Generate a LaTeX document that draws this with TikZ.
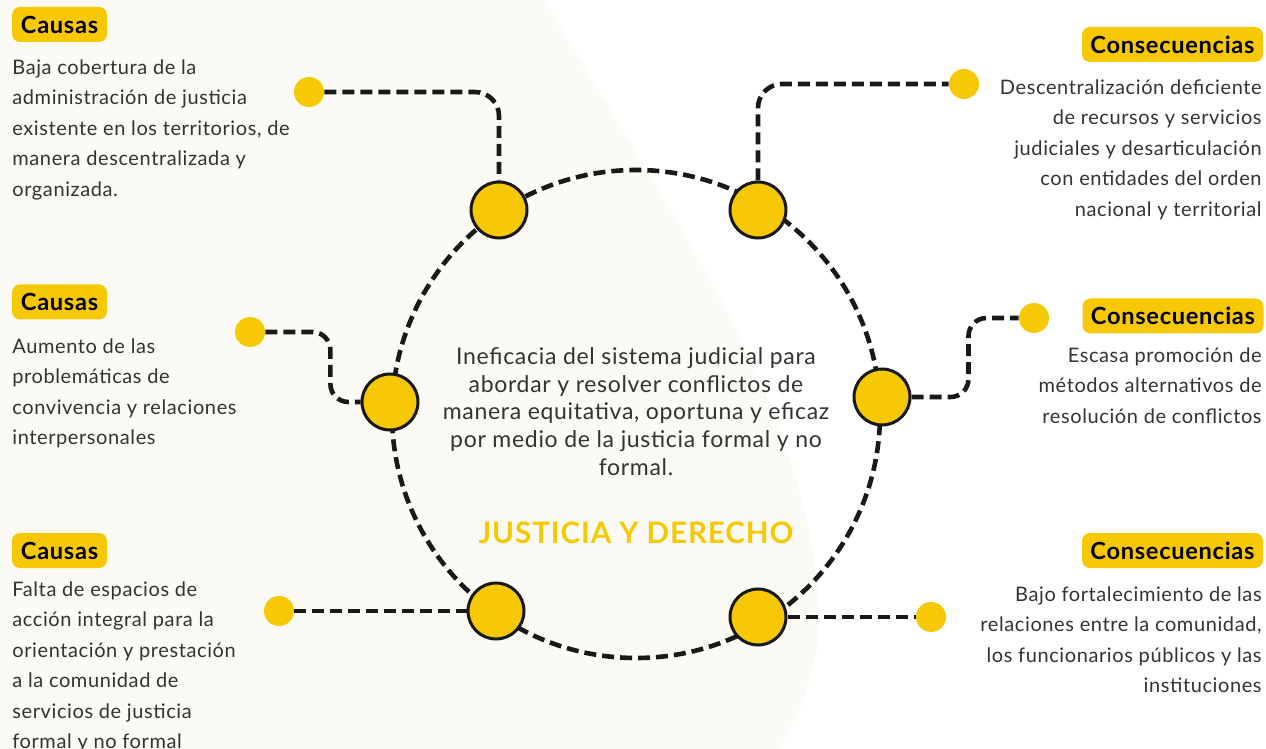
\documentclass[tikz,border=0pt]{standalone}
\usepackage{fontspec}
\setmainfont{Lato}[LetterSpace=3]
\definecolor{amarillo}{HTML}{F7C904}
\definecolor{crema}{HTML}{FCFAF5}
\definecolor{texto}{HTML}{333333}
\tikzset{
  link/.style={line width=2.3pt, dash pattern=on 6pt off 3pt, draw=black!90},
  nodo/.style={circle, fill=amarillo, draw=black!90, line width=1.5pt, minimum size=28pt, inner sep=0},
  punto/.style={circle, fill=amarillo, minimum size=15pt, inner sep=0},
  etiqueta/.style={fill=amarillo, rounded corners=4pt, minimum height=17.5pt, inner sep=0,
    font=\bfseries\fontsize{11.8}{13}\selectfont},
  cuerpo/.style={inner sep=0, text=texto, font=\fontsize{10}{15.25}\selectfont},
}
\begin{document}
\begin{tikzpicture}[x=0.5pt, y=-0.5pt]
  \useasboundingbox (0,0) rectangle (1266,749);
  % Fondo
  \fill[crema] (0,0) -- (545,0) .. controls (640,170) and (830,420) .. (818,640)
    .. controls (812,690) and (790,730) .. (780,749) -- (0,749) -- cycle;

  % Circulo central
  \draw[link] (636,414) circle (122pt);
  \node[nodo] (c1) at (499,210) {};
  \node[nodo] (c2) at (758,210) {};
  \node[nodo] (c3) at (390,402) {};
  \node[nodo] (c4) at (882,397) {};
  \node[nodo] (c5) at (496,611) {};
  \node[nodo] (c6) at (758,617) {};

  % Puntos y conectores
  \node[punto] (d1) at (309,92) {};
  \node[punto] (d2) at (964,84) {};
  \node[punto] (d3) at (250,332) {};
  \node[punto] (d4) at (1034,318) {};
  \node[punto] (d5) at (279,611) {};
  \node[punto] (d6) at (931,617) {};
  \draw[link, rounded corners=12pt] (d1.east) -| (c1.north);
  \draw[link, rounded corners=12pt] (c2.north) |- (d2.west);
  \draw[link, rounded corners=9pt] (d3.east) -- ++(65,0) |- (c3.west);
  \draw[link, rounded corners=9pt] (c4.east) -- ++(57,0) |- (d4.west);
  \draw[link] (d5) -- (c5);
  \draw[link] (c6) -- (d6);

  % Causas
  \node[etiqueta, minimum width=47.5pt] (k1) at (59.5,24.5) {Causas};
  \node[cuerpo, anchor=north west, align=left] (t1) at (12,59)
    {Baja cobertura de la\\administración de justicia\\existente en los territorios, de\\manera descentralizada y\\organizada.};
  \node[etiqueta, minimum width=47.5pt] (k2) at (59.5,302) {Causas};
  \node[cuerpo, anchor=north west, align=left] (t2) at (12,338)
    {Aumento de las\\problemáticas de\\convivencia y relaciones\\interpersonales};
  \node[etiqueta, minimum width=47.5pt] (k3) at (59.5,550.5) {Causas};
  \node[cuerpo, anchor=north west, align=left] (t3) at (12,581)
    {Falta de espacios de\\acción integral para la\\orientación y prestación\\a la comunidad de\\servicios de justicia\\formal y no formal};

  % Consecuencias
  \node[etiqueta, minimum width=90.5pt] (q1) at (1172.5,44.5) {Consecuencias};
  \node[cuerpo, anchor=north east, align=right] (r1) at (1262,79)
    {Descentralización deficiente\\de recursos y servicios\\judiciales y desarticulación\\con entidades del orden\\nacional y territorial};
  \node[etiqueta, minimum width=90.5pt] (q2) at (1173,316) {Consecuencias};
  \node[cuerpo, anchor=north east, align=right] (r2) at (1262,347)
    {Escasa promoción de\\métodos alternativos de\\resolución de conflictos};
  \node[etiqueta, minimum width=90.5pt] (q3) at (1172.5,550.5) {Consecuencias};
  \node[cuerpo, anchor=north east, align=right] (r3) at (1262,586)
    {Bajo fortalecimiento de las\\relaciones entre la comunidad,\\los funcionarios públicos y las\\instituciones};

  % Problema central
  \node[cuerpo, anchor=north, align=center, font=\fontsize{11.5}{13.9}\selectfont] (tema) at (636,347)
    {Ineficacia del sistema judicial para\\abordar y resolver conflictos de\\manera equitativa, oportuna y eficaz\\por medio de la justicia formal y no\\formal.};
  \node[text=amarillo, font=\bfseries\fontsize{14.8}{16}\selectfont] (sector) at (636,533) {JUSTICIA Y DERECHO};
\end{tikzpicture}
\end{document}
